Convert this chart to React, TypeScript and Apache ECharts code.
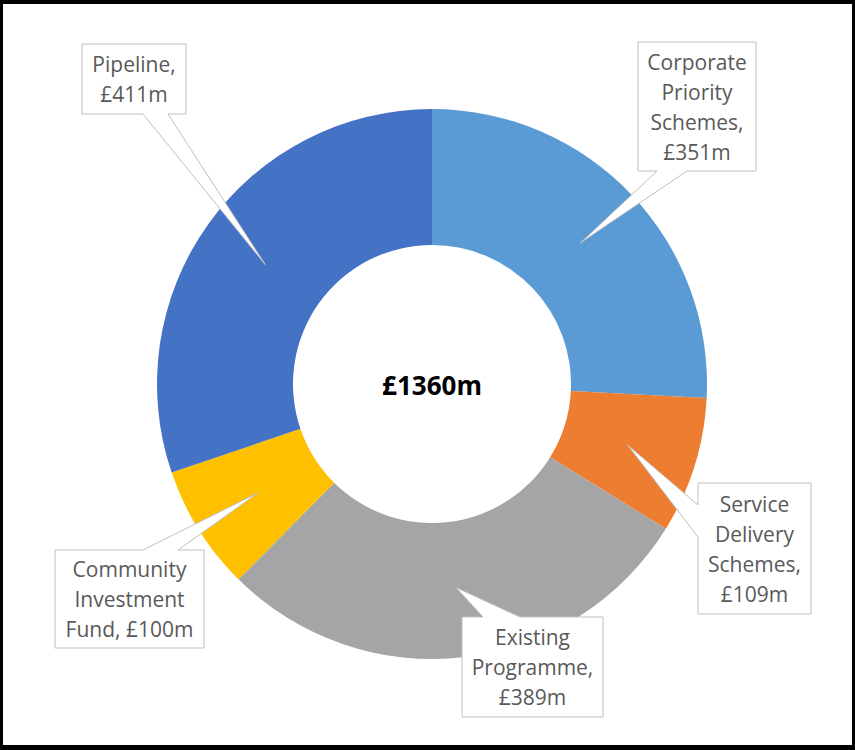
import React, { useEffect, useRef } from "react";
import * as echarts from "echarts";

// ---- data ----
const categories = [
  "Corporate Priority Schemes",
  "Service Delivery Schemes",
  "Existing Programme",
  "Community Investment Fund",
  "Pipeline",
];
const values = [351, 109, 389, 100, 411];
const labelLines = [
  "Corporate\nPriority\nSchemes,",
  "Service\nDelivery\nSchemes,",
  "Existing\nProgramme,",
  "Community\nInvestment\nFund,",
  "Pipeline,",
];
const valueJoin = ["\n", "\n", "\n", " ", "\n"];
const colors = ["#5B9BD5", "#ED7D31", "#A5A5A5", "#FFC000", "#4472C4"];

// ---- layout (callout boxes) ----
const CX = 432;
const CY = 384;
const R_IN = 139;
const R_OUT = 275;
const callouts = [
  { x: 638, y: 42, w: 118, h: 129, side: "bottom", a: 657, b: 687 },
  { x: 698, y: 483, w: 113, h: 131, side: "left", a: 505, b: 537 },
  { x: 462, y: 617, w: 141, h: 100, side: "top", a: 483, b: 520 },
  { x: 55, y: 550, w: 149, h: 98, side: "top", a: 143, b: 178 },
  { x: 82, y: 44, w: 104, h: 70, side: "bottom", a: 143, b: 168 },
];

function calloutPoints(c: any, tip: number[]) {
  const { x, y, w, h, side, a, b } = c;
  const pts: number[][] = [[x, y]];
  if (side === "top") pts.push([a, y], tip, [b, y]);
  pts.push([x + w, y]);
  if (side === "right") pts.push([x + w, a], tip, [x + w, b]);
  pts.push([x + w, y + h]);
  if (side === "bottom") pts.push([b, y + h], tip, [a, y + h]);
  pts.push([x, y + h]);
  if (side === "left") pts.push([x, b], tip, [x, a]);
  return pts;
}

export default function App() {
  const ref = useRef<HTMLDivElement>(null);

  useEffect(() => {
    if (!ref.current) return;
    const chart = echarts.init(ref.current, undefined, { renderer: "svg" });
    const total = values.reduce((s, v) => s + v, 0);

    // tip points at mid-angle, mid-radius of each slice
    let cum = 0;
    const tips = values.map((v) => {
      const mid = ((cum + v / 2) / total) * Math.PI * 2;
      cum += v;
      const r = (R_IN + R_OUT) / 2 - 2;
      return [CX + r * Math.sin(mid), CY - r * Math.cos(mid)];
    });

    const graphics: any[] = [];
    callouts.forEach((c, i) => {
      graphics.push({
        type: "polygon",
        z: 100,
        silent: true,
        shape: { points: calloutPoints(c, tips[i]) },
        style: { fill: "#ffffff", stroke: "#BFBFBF", lineWidth: 1 },
      });
      graphics.push({
        type: "text",
        z: 101,
        silent: true,
        x: c.x + c.w / 2,
        y: c.y + c.h / 2,
        style: {
          text: labelLines[i] + valueJoin[i] + "£" + values[i] + "m",
          fill: "#595959",
          font: '21px "Open Sans"',
          align: "center",
          verticalAlign: "middle",
          textAlign: "center",
          textVerticalAlign: "middle",
          lineHeight: 30,
        },
      });
    });
    graphics.push({
      type: "text",
      z: 101,
      silent: true,
      x: CX,
      y: CY + 1,
      style: {
        text: "£" + total + "m",
        fill: "#000000",
        font: 'bold 26px "Open Sans"',
        align: "center",
        verticalAlign: "middle",
        textAlign: "center",
        textVerticalAlign: "middle",
      },
    });

    chart.setOption({
      animation: false,
      backgroundColor: "#ffffff",
      series: [
        {
          type: "pie",
          center: [CX, CY],
          radius: [R_IN, R_OUT],
          startAngle: 90,
          clockwise: true,
          silent: true,
          label: { show: false },
          labelLine: { show: false },
          itemStyle: { borderWidth: 0 },
          data: categories.map((name, i) => ({
            name,
            value: values[i],
            itemStyle: { color: colors[i] },
          })),
        },
      ],
      graphic: graphics,
    });

    return () => chart.dispose();
  }, []);

  return (
    <div style={{ position: "fixed", left: 0, top: 0, width: 855, height: 750, background: "#fff" }}>
      <div ref={ref} style={{ position: "absolute", left: 0, top: 0, width: 855, height: 750 }} />
      <div
        style={{
          position: "absolute",
          left: 0,
          top: 0,
          width: 855,
          height: 750,
          boxSizing: "border-box",
          borderTop: "4px solid #000",
          borderLeft: "3px solid #000",
          borderRight: "3px solid #000",
          borderBottom: "5px solid #000",
          pointerEvents: "none",
        }}
      />
    </div>
  );
}
